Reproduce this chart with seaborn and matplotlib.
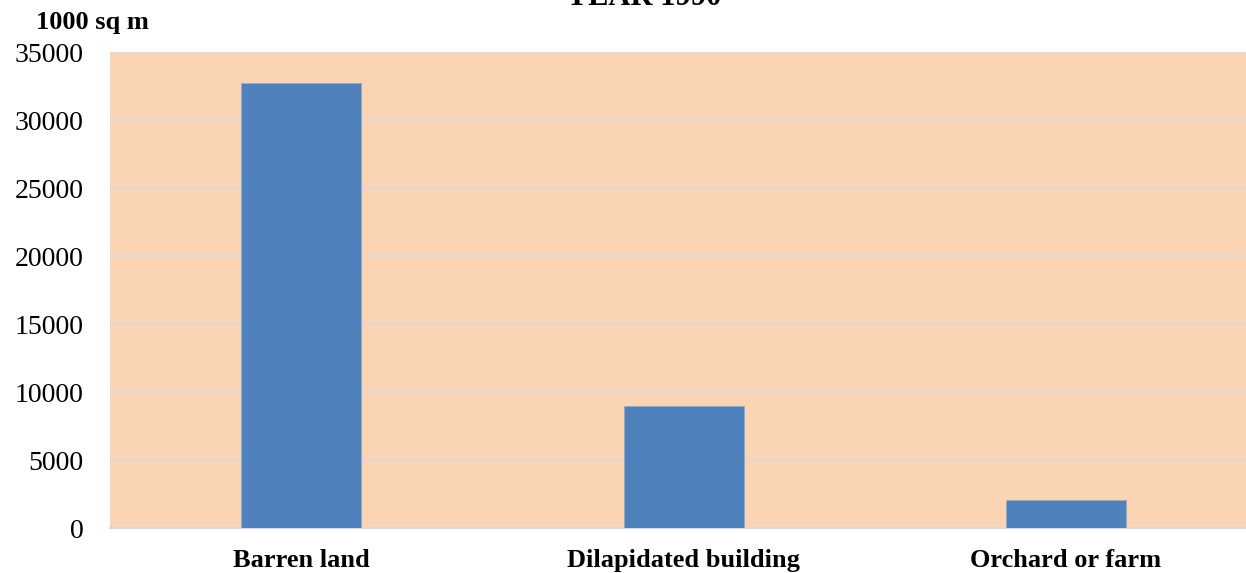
import matplotlib.pyplot as plt
import seaborn as sns
import pandas as pd

categories = ['Barren land', 'Dilapidated building', 'Orchard or farm']
area_1000sqm = [32700, 9000, 2050]
y_ticks = [0, 5000, 10000, 15000, 20000, 25000, 30000, 35000]

sns.set_style("white")
plt.rcParams['font.family'] = ['Liberation Serif', 'DejaVu Serif']

df = pd.DataFrame({'category': categories, 'value': area_1000sqm})

fig = plt.figure(figsize=(12.46, 5.73), dpi=100)
ax = fig.add_axes([0.0883, 0.0785, 0.9206, 0.8304])
ax.set_facecolor('#FBD4B4')

sns.barplot(data=df, x='category', y='value', color='#4F81BD', width=0.314,
            saturation=1, ax=ax, zorder=3, edgecolor='#8FA9CC', linewidth=0.6)

ax.set_ylim(0, 35000)
ax.set_yticks(y_ticks)
ax.set_yticklabels([str(t) for t in y_ticks], fontsize=20, color='black')
ax.yaxis.grid(True, color='#D9D9D9', linewidth=1.5, zorder=0)
ax.set_axisbelow(True)
ax.tick_params(axis='x', labelsize=19, length=0, pad=15, labelcolor='black')
ax.tick_params(axis='y', length=0, pad=19)
for lbl in ax.get_xticklabels():
    lbl.set_fontweight('bold')
ax.set_xlabel('')
ax.set_ylabel('')
for side in ['top', 'right', 'left']:
    ax.spines[side].set_visible(False)
ax.spines['bottom'].set_color('#D9D9D9')
ax.spines['bottom'].set_linewidth(1.5)

# title sits mostly above the top edge, as in the reference
fig.text(644 / 1246, 1 - 5 / 573, 'YEAR 1990', ha='center', va='baseline',
         fontsize=22, fontweight='bold', color='black')
fig.text(36 / 1246, 1 - 23 / 573, '1000 sq m', ha='left', va='center', fontsize=19,
         fontweight='bold', color='black')

fig.savefig('out.png', dpi=100)
